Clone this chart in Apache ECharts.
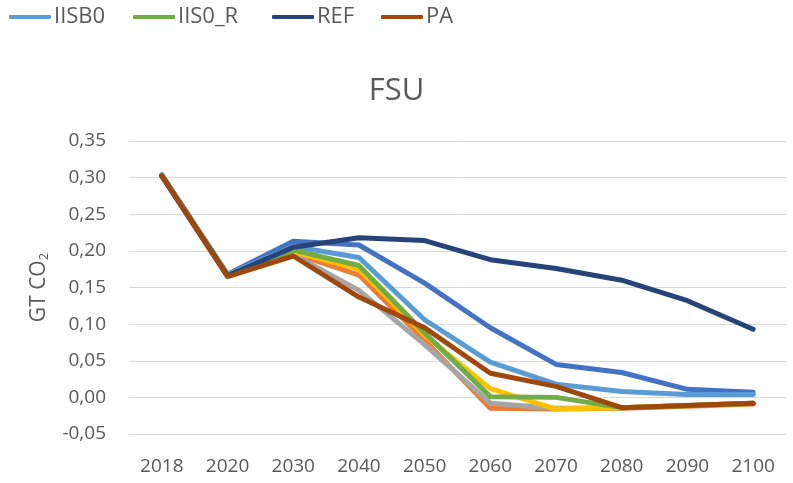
<!DOCTYPE html>
<html>
<head>
<meta charset="utf-8">
<script src="https://cdn.jsdelivr.net/npm/echarts@6/dist/echarts.min.js"></script>
<style>html,body{margin:0;padding:0;background:#fff}#c{width:793px;height:483px}</style>
</head>
<body>
<div id="c"></div>
<script>
var categories = ['2018','2020','2030','2040','2050','2060','2070','2080','2090','2100'];
var seriesNames = ['Series1','Series2','Series3','Series4','IISB0','IIS0_R','REF','PA'];
var legendNames = ['IISB0','IIS0_R','REF','PA'];
var s1 = [0.303,0.168,0.213,0.208,0.156,0.095,0.045,0.034,0.011,0.007];
var s2 = [0.303,0.167,0.197,0.167,0.078,-0.015,-0.016,-0.015,-0.012,-0.009];
var s3 = [0.303,0.167,0.195,0.146,0.072,-0.008,-0.015,-0.014,-0.011,-0.008];
var s4 = [0.303,0.167,0.199,0.175,0.085,0.012,-0.016,-0.014,-0.011,-0.008];
var iisb0 = [0.304,0.168,0.206,0.191,0.106,0.048,0.018,0.008,0.004,0.004];
var iis0r = [0.303,0.167,0.201,0.180,0.088,0.001,0.000,-0.014,-0.011,-0.008];
var ref = [0.302,0.166,0.205,0.218,0.214,0.188,0.176,0.160,0.132,0.093];
var pa = [0.302,0.165,0.193,0.137,0.095,0.033,0.015,-0.014,-0.011,-0.008];
var allData = [s1,s2,s3,s4,iisb0,iis0r,ref,pa];
var colors = ['#4472C4','#ED7D31','#A5A5A5','#FFC000','#5B9BD5','#70AD47','#264478','#9E480E'];
var legendLeft = [9, 133, 272, 381];

var FONT = '"Open Sans", sans-serif';
var chart = echarts.init(document.getElementById('c'), null, {renderer:'canvas'});
chart.setOption({
  animation: false,
  color: colors,
  title: {
    text: 'FSU', left: 'center', top: 76, padding: 0,
    textStyle: {fontFamily: FONT, fontSize: 31, fontWeight: 'normal', color: '#595959'}
  },
  legend: legendNames.map(function (n, i) {
    return {
      data: [n], left: legendLeft[i], top: 6, padding: 0, itemWidth: 42, itemHeight: 4,
      icon: 'roundRect', selectedMode: false,
      textStyle: {fontFamily: FONT, fontSize: 22, color: '#595959', padding: [0,0,0,-2]}
    };
  }),
  grid: {left: 129, right: 7, top: 141, bottom: 49, containLabel: false},
  xAxis: {
    type: 'category', data: categories, boundaryGap: true,
    axisLine: {show: false}, axisTick: {show: false},
    axisLabel: {fontFamily: FONT, fontSize: 19, color: '#595959', margin: 23}
  },
  yAxis: {
    type: 'value', min: -0.05, max: 0.35, interval: 0.05,
    name: 'GT CO{s|2}', nameLocation: 'middle', nameGap: 78, nameRotate: 90,
    nameTextStyle: {fontFamily: FONT, fontSize: 21, color: '#595959',
      rich: {s: {fontFamily: FONT, fontSize: 13, color: '#595959', padding: [10,0,0,0]}}},
    axisLine: {show: false}, axisTick: {show: false},
    splitLine: {lineStyle: {color: '#D9D9D9', width: 1}},
    axisLabel: {fontFamily: FONT, fontSize: 19, color: '#595959', margin: 23,
      formatter: function (v) { return v.toFixed(2).replace('.', ','); }}
  },
  series: allData.map(function (d, i) {
    return {
      name: seriesNames[i], type: 'line', data: d, symbol: 'none',
      lineStyle: {width: 5, color: colors[i], cap: 'round', join: 'round'},
      itemStyle: {color: colors[i]}, z: 2 + i
    };
  })
});
</script>
</body>
</html>
